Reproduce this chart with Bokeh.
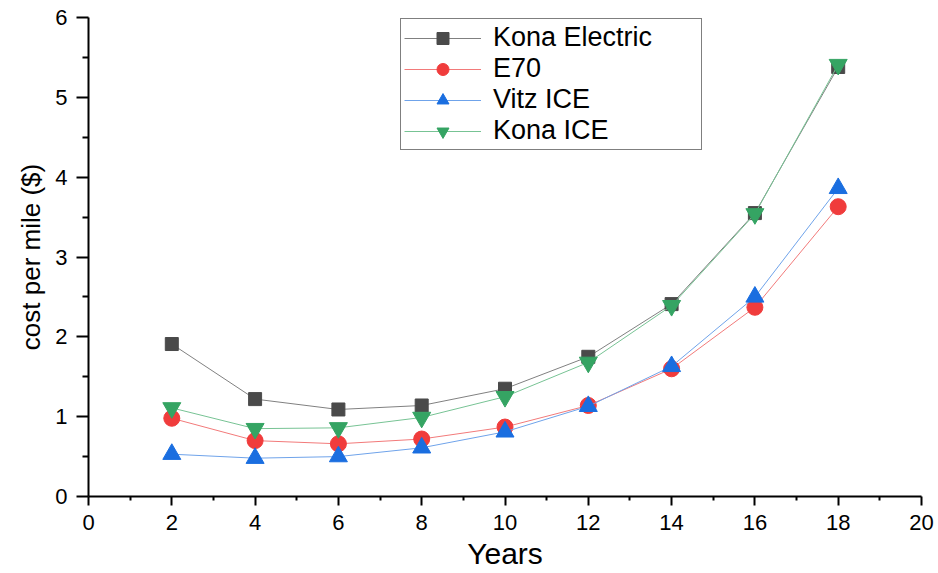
from bokeh.plotting import figure
from bokeh.models import Range1d, FixedTicker, Legend, LegendItem
from bokeh.embed import file_html
from bokeh.resources import INLINE

years = [2, 4, 6, 8, 10, 12, 14, 16, 18]
kona_electric = [1.91, 1.22, 1.09, 1.14, 1.35, 1.75, 2.41, 3.55, 5.38]
e70 = [0.98, 0.70, 0.66, 0.72, 0.87, 1.14, 1.60, 2.37, 3.63]
vitz_ice = [0.53, 0.48, 0.50, 0.61, 0.81, 1.13, 1.63, 2.50, 3.86]
kona_ice = [1.11, 0.85, 0.86, 0.99, 1.25, 1.68, 2.39, 3.54, 5.41]

x_ticks = [0, 2, 4, 6, 8, 10, 12, 14, 16, 18, 20]
y_ticks = [0, 1, 2, 3, 4, 5, 6]

FONT = "Liberation Sans"

p = figure(width=938, height=573, output_backend="svg", toolbar_location=None,
           x_range=Range1d(0, 20), y_range=Range1d(0, 6),
           min_border_left=88, min_border_right=17, min_border_top=17, min_border_bottom=77)
p.outline_line_color = None
p.xgrid.visible = False
p.ygrid.visible = False
p.background_fill_color = "white"

p.xaxis.ticker = FixedTicker(ticks=x_ticks, minor_ticks=[1, 3, 5, 7, 9, 11, 13, 15, 17, 19])
p.yaxis.ticker = FixedTicker(ticks=y_ticks, minor_ticks=[0.5, 1.5, 2.5, 3.5, 4.5, 5.5])

for ax in (p.xaxis[0], p.yaxis[0]):
    ax.axis_line_width = 2
    ax.axis_line_color = "black"
    ax.major_tick_line_width = 2
    ax.minor_tick_line_width = 2
    ax.major_tick_line_color = "black"
    ax.minor_tick_line_color = "black"
    ax.major_tick_in = 0
    ax.minor_tick_in = 0
    ax.major_label_text_font = FONT
    ax.major_label_text_font_size = "22px"
    ax.major_label_text_color = "black"
    ax.major_label_standoff = 9
    ax.axis_label_text_font = FONT
    ax.axis_label_text_font_style = "normal"
    ax.axis_label_text_color = "black"

p.xaxis.major_tick_out = 9
p.xaxis.minor_tick_out = 4
p.yaxis.major_tick_out = 12
p.yaxis.minor_tick_out = 6

p.xaxis.axis_label = "Years"
p.xaxis.axis_label_text_font_size = "30px"
p.xaxis.axis_label_standoff = 4
p.yaxis.axis_label = "cost per mile ($)"
p.yaxis.axis_label_text_font_size = "26px"
p.yaxis.axis_label_standoff = 6

series = [
    ("Kona Electric", kona_electric, "#4a4a4a", "#808080", "square", 13),
    ("E70", e70, "#f03c3c", "#f27a7a", "circle", 16),
    ("Vitz ICE", vitz_ice, "#1a6ee0", "#6fa3ea", "triangle", 18),
    ("Kona ICE", kona_ice, "#35a463", "#77c394", "inverted_triangle", 18),
]

items = []
for name, ys, mcol, lcol, marker, size in series:
    l = p.line(years, ys, line_color=lcol, line_width=1)
    s = p.scatter(years, ys, marker=marker, size=size, fill_color=mcol, line_color=mcol)
    items.append(LegendItem(label=name, renderers=[l, s]))

legend = Legend(items=items, location=(312, 346))
legend.label_text_font = FONT
legend.label_text_font_size = "27px"
legend.label_text_color = "black"
legend.glyph_width = 77
legend.glyph_height = 30
legend.label_height = 30
legend.label_width = 205
legend.label_standoff = 12
legend.spacing = 0
legend.padding = 3
legend.margin = 0
legend.border_line_color = "black"
legend.border_line_width = 1
legend.background_fill_alpha = 1
p.add_layout(legend, "center")

open("out.html", "w").write(file_html(p, INLINE))
